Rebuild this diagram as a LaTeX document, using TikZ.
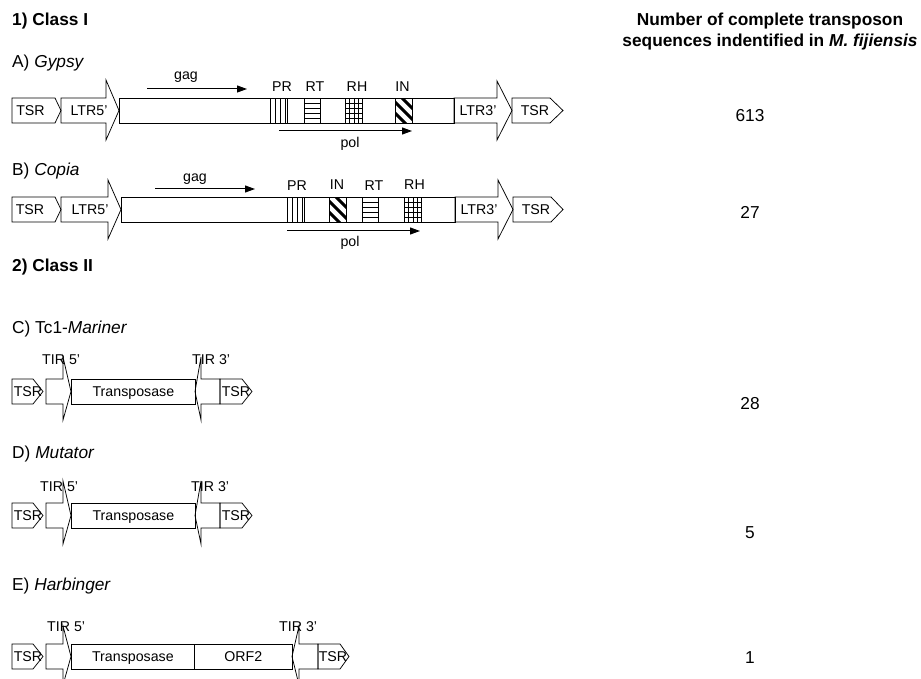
\documentclass[tikz,border=0pt]{standalone}
\usepackage{fontspec}
\setmainfont{Liberation Sans}
\usetikzlibrary{arrows.meta,calc}

\tikzset{
  outline/.style={draw=black, line width=0.75pt, line join=miter},
  elem/.style={outline, anchor=north west, inner sep=0pt, minimum height=25pt},
  boxlbl/.style={inner sep=0pt, text height=10pt, text depth=0pt, font=\fontsize{14.2}{16}\selectfont},
  lbl/.style={inner sep=0pt, anchor=base, font=\fontsize{14.2}{16}\selectfont},
  seclbl/.style={inner sep=0pt, anchor=base west, font=\fontsize{17.3}{20}\selectfont},
  classlbl/.style={seclbl, font=\fontsize{17.3}{20}\selectfont\bfseries},
  countlbl/.style={inner sep=0pt, anchor=base, font=\fontsize{17.3}{20}\selectfont},
  gene/.style={line width=1pt, -{Triangle[length=10pt,width=7pt]}},
  prdom/.style={elem, minimum width=17pt, path picture={
      \foreach \f in {0.3,0.6,0.85}
        \draw[line width=0.6pt] ($(path picture bounding box.north west)!\f!(path picture bounding box.north east)$) -- ++(0,30);}},
  rtdom/.style={elem, minimum width=16pt, path picture={
      \foreach \f in {0.2,0.4,0.6,0.8}
        \draw[line width=0.6pt] ($(path picture bounding box.north west)!\f!(path picture bounding box.south west)$) -- ++(30,0);}},
  rhdom/.style={elem, minimum width=17pt, path picture={
      \foreach \f in {0.25,0.5,0.75}
        \draw[line width=0.6pt] ($(path picture bounding box.north west)!\f!(path picture bounding box.north east)$) -- ++(0,30);
      \foreach \f in {0.2,0.4,0.6,0.8}
        \draw[line width=0.6pt] ($(path picture bounding box.north west)!\f!(path picture bounding box.south west)$) -- ++(30,0);}},
  indom/.style={elem, minimum width=17pt, path picture={
      \foreach \k in {-3,...,3}
        \draw[line width=3pt] ($(path picture bounding box.center)+(\k*11,0)$) +(-20,-20) -- +(20,20);}}
}

\begin{document}
\begin{tikzpicture}[x=1pt, y=-1pt]
\useasboundingbox (0,0) rectangle (921,679);

% headings
\node[classlbl] (cls1) at (12,26) {1) Class I};
\node[seclbl] (secA) at (12,67.7) {A) \textit{Gypsy}};
\node[seclbl] (secB) at (12,176) {B) \textit{Copia}};
\node[classlbl] (cls2) at (12,272) {2) Class II};
\node[seclbl] (secC) at (12,333) {C) Tc1-\textit{Mariner}};
\node[seclbl] (secD) at (12,458) {D) \textit{Mutator}};
\node[seclbl] (secE) at (12,590) {E) \textit{Harbinger}};

\node[countlbl, font=\fontsize{17.3}{20}\selectfont\bfseries] (hdr1) at (770,26) {Number of complete transposon};
\node[countlbl, font=\fontsize{17.3}{20}\selectfont\bfseries] (hdr2) at (770,46.7) {sequences indentified in \textit{M. fijiensis}};

% A) Gypsy
\draw[outline] (12,98) -- (55,98) -- (61,110.5) -- (55,123) -- (12,123) -- cycle;
\node[boxlbl] (tsrA1) at (30.5,110.5) {TSR};
\draw[outline] (61,98) -- (106,98) -- (106,80) -- (119,110.5) -- (106,140) -- (106,123) -- (61,123) -- cycle;
\node[boxlbl] (ltrA5) at (89,110.5) {LTR5'};
\node[elem, minimum width=335pt] (bodyA) at (119,98) {};
\node[prdom] (prA) at (270,98) {};
\node[rtdom] (rtA) at (304,98) {};
\node[rhdom] (rhA) at (345,98) {};
\node[indom] (inA) at (395,98) {};
\draw[outline] (454,98) -- (497,98) -- (497,81) -- (512,110.5) -- (497,140) -- (497,123) -- (454,123) -- cycle;
\node[boxlbl] (ltrA3) at (478,110.5) {LTR3'};
\draw[outline] (512,98) -- (550,98) -- (563,110.5) -- (550,123) -- (512,123) -- cycle;
\node[boxlbl] (tsrA2) at (535,110.5) {TSR};

\node[lbl] (prlA) at (282,92) {PR};
\node[lbl] (rtlA) at (315,92) {RT};
\node[lbl] (rhlA) at (357,92) {RH};
\node[lbl] (inlA) at (402.5,92) {IN};

\coordinate (gagA-s) at (147,89);
\coordinate (gagA-e) at (247,89);
\draw[gene] (gagA-s) -- (gagA-e);
\node[lbl] (gagA) at (186,80) {gag};
\coordinate (polA-s) at (279,131);
\coordinate (polA-e) at (412,131);
\draw[gene] (polA-s) -- (polA-e);
\node[lbl] (polA) at (350,148) {pol};
\node[countlbl] (nA) at (750,121.5) {613};

% B) Copia
\draw[outline] (12,197) -- (55,197) -- (61,209.5) -- (55,222) -- (12,222) -- cycle;
\node[boxlbl] (tsrB1) at (30,209.5) {TSR};
\draw[outline] (61,197) -- (108,197) -- (108,180) -- (121,209.5) -- (108,239) -- (108,222) -- (61,222) -- cycle;
\node[boxlbl] (ltrB5) at (90,209.5) {LTR5'};
\node[elem, minimum width=334pt] (bodyB) at (121,197) {};
\node[prdom] (prB) at (287,197) {};
\node[indom] (inB) at (329,197) {};
\node[rtdom] (rtB) at (362,197) {};
\node[rhdom] (rhB) at (404,197) {};
\draw[outline] (455,197) -- (498,197) -- (498,180) -- (513,209.5) -- (498,239) -- (498,222) -- (455,222) -- cycle;
\node[boxlbl] (ltrB3) at (479,209.5) {LTR3'};
\draw[outline] (513,197) -- (551,197) -- (563,209.5) -- (551,222) -- (513,222) -- cycle;
\node[boxlbl] (tsrB2) at (536,209.5) {TSR};

\node[lbl] (prlB) at (297,191) {PR};
\node[lbl] (inlB) at (337,190) {IN};
\node[lbl] (rtlB) at (374,191) {RT};
\node[lbl] (rhlB) at (414.5,190) {RH};

\coordinate (gagB-s) at (155,189);
\coordinate (gagB-e) at (255,189);
\draw[gene] (gagB-s) -- (gagB-e);
\node[lbl] (gagB) at (195,181.7) {gag};
\coordinate (polB-s) at (287,231);
\coordinate (polB-e) at (420,231);
\draw[gene] (polB-s) -- (polB-e);
\node[lbl] (polB) at (350,246.7) {pol};
\node[countlbl] (nB) at (750,218.5) {27};

% C) Tc1-Mariner
\draw[outline] (12,379) -- (33,379) -- (43,391.5) -- (33,404) -- (12,404) -- cycle;
\node[boxlbl] (tsrC1) at (28,391.5) {TSR};
\draw[outline] (46,379) -- (63,379) -- (63,357) -- (71,391.5) -- (63,420) -- (63,404) -- (46,404) -- cycle;
\node[elem, boxlbl, minimum width=124pt] (tpC) at (71,379) {Transposase};
\draw[outline] (195,391.5) -- (201,357) -- (201,379) -- (220,379) -- (220,404) -- (201,404) -- (201,420) -- cycle;
\draw[outline] (220,379) -- (242,379) -- (252,391.5) -- (242,404) -- (220,404) -- cycle;
\node[boxlbl] (tsrC2) at (236,391.5) {TSR};
\node[lbl, anchor=base west] (tir5C) at (42,364) {TIR 5'};
\node[lbl, anchor=base west] (tir3C) at (192,364) {TIR 3'};
\node[countlbl] (nC) at (750,409.5) {28};

% D) Mutator
\draw[outline] (12,503) -- (33,503) -- (43,515.5) -- (33,528) -- (12,528) -- cycle;
\node[boxlbl] (tsrD1) at (28,515.5) {TSR};
\draw[outline] (46,503) -- (63,503) -- (63,481) -- (71,515.5) -- (63,544) -- (63,528) -- (46,528) -- cycle;
\node[elem, boxlbl, minimum width=124pt] (tpD) at (71,503) {Transposase};
\draw[outline] (195,515.5) -- (201,481) -- (201,503) -- (220,503) -- (220,528) -- (201,528) -- (201,544) -- cycle;
\draw[outline] (220,503) -- (242,503) -- (252,515.5) -- (242,528) -- (220,528) -- cycle;
\node[boxlbl] (tsrD2) at (236,515.5) {TSR};
\node[lbl, anchor=base west] (tir5D) at (40,491) {TIR 5'};
\node[lbl, anchor=base west] (tir3D) at (191,491) {TIR 3'};
\node[countlbl] (nD) at (750,538.5) {5};

% E) Harbinger
\draw[outline] (12,644) -- (33,644) -- (43,656.5) -- (33,669) -- (12,669) -- cycle;
\node[boxlbl] (tsrE1) at (28,656.5) {TSR};
\draw[outline] (46,644) -- (63,644) -- (63,626) -- (71,656.5) -- (63,685) -- (63,669) -- (46,669) -- cycle;
\node[elem, boxlbl, minimum width=123pt] (tpE) at (71,644) {Transposase};
\node[elem, boxlbl, minimum width=98pt] (orfE) at (194,644) {ORF2};
\draw[outline] (292,656.5) -- (299,626) -- (299,644) -- (318,644) -- (318,669) -- (299,669) -- (299,685) -- cycle;
\draw[outline] (318,644) -- (340,644) -- (349,656.5) -- (340,669) -- (318,669) -- cycle;
\node[boxlbl] (tsrE2) at (333,656.5) {TSR};
\node[lbl, anchor=base west] (tir5E) at (47,631) {TIR 5'};
\node[lbl, anchor=base west] (tir3E) at (279,631) {TIR 3'};
\node[countlbl] (nE) at (750,663.5) {1};
\end{tikzpicture}
\end{document}
